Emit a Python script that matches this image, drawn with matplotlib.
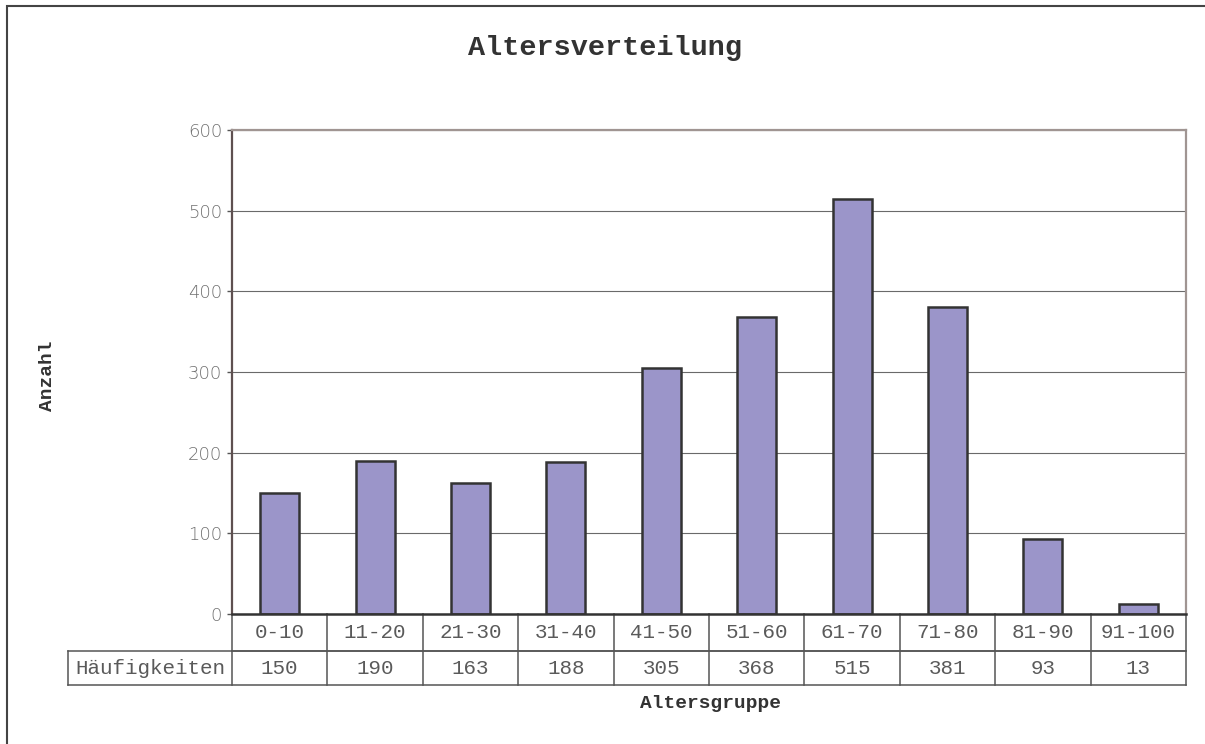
import matplotlib.pyplot as plt
from matplotlib.patches import Rectangle
from matplotlib.transforms import blended_transform_factory

# age groups and how many people fall in each
groups = ['0-10', '11-20', '21-30', '31-40', '41-50', '51-60', '61-70', '71-80', '81-90', '91-100']
counts = [150, 190, 163, 188, 305, 368, 515, 381, 93, 13]
row_label = 'Häufigkeiten'
yticks = [0, 100, 200, 300, 400, 500, 600]

W, H = 1205, 744
fig = plt.figure(figsize=(W / 100, H / 100), dpi=100)

# plot area in pixels
left, right, top, bottom = 232, 1186, 130, 614
ax = fig.add_axes([left / W, (H - bottom) / H, (right - left) / W, (bottom - top) / H])

xs = list(range(len(groups)))
ax.bar(xs, counts, width=0.41, color='#9b95c9', edgecolor='#333333', linewidth=1.8, zorder=3)
ax.set_xlim(-0.5, len(groups) - 0.5)
ax.set_ylim(0, 600)
ax.set_yticks(yticks)
ax.set_yticklabels([str(t) for t in yticks], fontfamily='DejaVu Sans', fontsize=13,
                   color='#707070', fontweight='light')
ax.tick_params(axis='y', length=3.6, width=1, color='#555555', pad=3.6)
ax.set_xticks([])
ax.grid(axis='y', color='#6a6a6a', linewidth=0.8, zorder=0)

ax.spines['left'].set_color('#5e5050')
ax.spines['left'].set_linewidth(1.6)
for s in ['top', 'right']:
    ax.spines[s].set_color('#a09592')
    ax.spines[s].set_linewidth(1.6)
ax.spines['bottom'].set_color('#333333')
ax.spines['bottom'].set_linewidth(1.8)
ax.spines['bottom'].set_zorder(4)

# data table under the bars
ph = bottom - top
r1 = -(651 - bottom) / ph
r2 = -(685 - bottom) / ph
hx = -(left - 68) / (right - left)
tr = blended_transform_factory(ax.transData, ax.transAxes)
line_kw = dict(color='#555555', linewidth=1.1, clip_on=False)
mono = 'Liberation Mono'

ax.plot([-0.5, len(groups) - 0.5], [r1, r1], transform=tr, **line_kw)
ax.plot([hx, 1], [r1, r1], transform=ax.transAxes, **line_kw)
ax.plot([hx, 1], [r2, r2], transform=ax.transAxes, **line_kw)
ax.plot([hx, hx], [r1, r2], transform=ax.transAxes, **line_kw)
for i in range(len(groups) + 1):
    ax.plot([i - 0.5, i - 0.5], [0, r2], transform=tr, **line_kw)

for x, g, c in zip(xs, groups, counts):
    ax.text(x, r1 / 2, g, transform=tr, ha='center', va='center',
            fontfamily=mono, fontsize=15, color='#5a5a5a')
    ax.text(x, (r1 + r2) / 2, str(c), transform=tr, ha='center', va='center',
            fontfamily=mono, fontsize=15, color='#5a5a5a')
ax.text((hx + 0) / 2, (r1 + r2) / 2, row_label, transform=ax.transAxes, ha='center', va='center',
        fontfamily=mono, fontsize=15, color='#5a5a5a')

# titles
fig.text(605 / W, 1 - 48 / H, 'Altersverteilung', ha='center', va='center',
         fontfamily=mono, fontweight='bold', fontsize=20.5, color='#333333')
fig.text(710 / W, 1 - 704 / H, 'Altersgruppe', ha='center', va='center',
         fontfamily=mono, fontweight='bold', fontsize=14, color='#333333')
fig.text(47 / W, 1 - 376 / H, 'Anzahl', ha='center', va='center', rotation=90,
         fontfamily=mono, fontweight='bold', fontsize=14, color='#333333')

# outer chart frame
fig.patches.append(Rectangle((7 / W, -0.1), 1.2, 1.1 - 6 / H, transform=fig.transFigure,
                             fill=False, edgecolor='#444444', linewidth=1.5))

fig.savefig('out.png', dpi=100)
